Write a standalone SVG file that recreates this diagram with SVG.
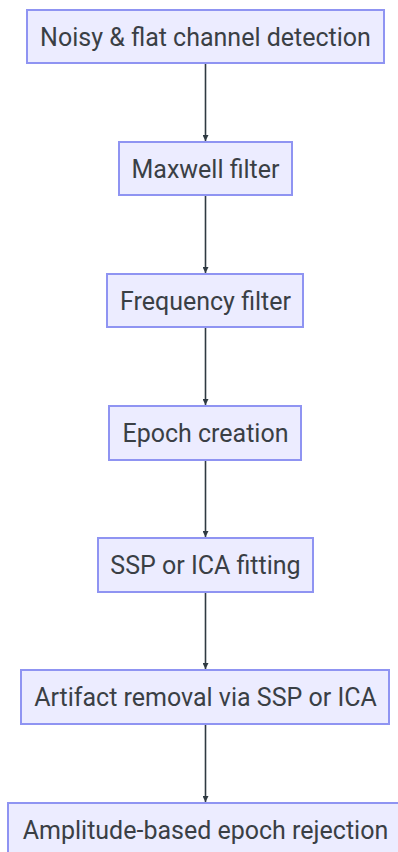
<svg xmlns="http://www.w3.org/2000/svg" width="398" height="852" viewBox="0 0 398 852">
<style>
.node rect{fill:#ECECFF;stroke:#8F94F2;stroke-width:2}
.node text{font-family:Roboto,"Liberation Sans",sans-serif;font-size:25px;fill:#3a3f45;text-anchor:middle}
.edge{stroke:#2f3a42;stroke-width:1.6;fill:none;marker-end:url(#arr)}
</style>
<defs>
<marker id="arr" viewBox="0 0 10 10" refX="10" refY="5" markerWidth="6" markerHeight="6" markerUnits="userSpaceOnUse" orient="auto">
<path d="M0,0 L10,5 L0,10 z" fill="#2f3a42"/>
</marker>
</defs>
<rect width="398" height="852" fill="#fff"/>
<g id="edges">
<line class="edge" x1="205.5" y1="63" x2="205.5" y2="141"/>
<line class="edge" x1="205.5" y1="195" x2="205.5" y2="273"/>
<line class="edge" x1="205.5" y1="327" x2="205.5" y2="405"/>
<line class="edge" x1="205.5" y1="460" x2="205.5" y2="537"/>
<line class="edge" x1="205.5" y1="592" x2="205.5" y2="669"/>
<line class="edge" x1="205.5" y1="724" x2="205.5" y2="802"/>
</g>
<g id="n1" class="node"><rect x="27" y="10" width="357" height="53"/><text x="205.5" y="45.5">Noisy &amp; flat channel detection</text></g>
<g id="n2" class="node"><rect x="119" y="142" width="173" height="53"/><text x="205.5" y="177.5">Maxwell filter</text></g>
<g id="n3" class="node"><rect x="107" y="274" width="196" height="53"/><text x="205.5" y="309.5">Frequency filter</text></g>
<g id="n4" class="node"><rect x="109" y="406" width="192" height="54"/><text x="205.5" y="442">Epoch creation</text></g>
<g id="n5" class="node"><rect x="98" y="538" width="215" height="54"/><text x="205.5" y="574">SSP or ICA fitting</text></g>
<g id="n6" class="node"><rect x="21" y="670" width="368" height="54"/><text x="205.5" y="706">Artifact removal via SSP or ICA</text></g>
<g id="n7" class="node"><rect x="8" y="803" width="394" height="54"/><text x="205.5" y="839">Amplitude-based epoch rejection</text></g>
</svg>
